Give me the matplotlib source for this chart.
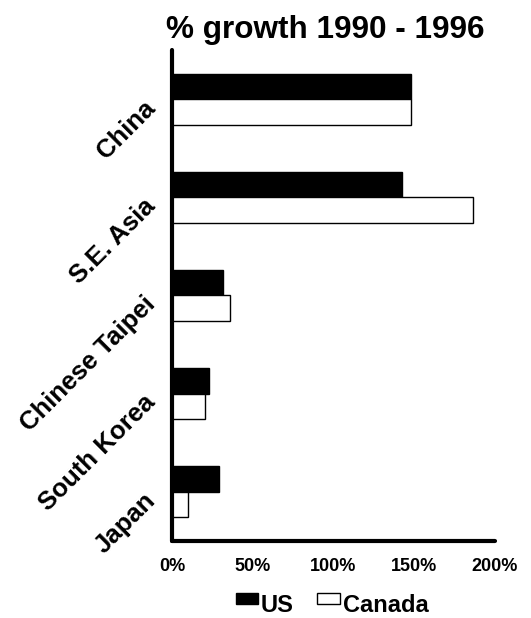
import matplotlib
matplotlib.use("Agg")
import matplotlib.pyplot as plt
import matplotlib.transforms as mtransforms
from matplotlib.patches import Patch, Rectangle
from matplotlib.legend_handler import HandlerPatch
import numpy as np

plt.rcParams['font.family'] = ['Liberation Sans', 'DejaVu Sans']
plt.rcParams['font.weight'] = 'bold'

regions = ["China", "S.E. Asia", "Chinese Taipei", "South Korea", "Japan"]
us_growth = [148, 142.5, 31.8, 23, 29]
canada_growth = [148, 186.5, 35.7, 20.6, 9.7]
x_ticks = [0, 50, 100, 150, 200]
x_tick_labels = ["0%", "50%", "100%", "150%", "200%"]

fig = plt.figure(figsize=(5.31, 6.18), dpi=100)
ax = fig.add_axes([172 / 531, 1 - 541 / 618, (495 - 172) / 531, (541 - 50) / 618])

y = np.arange(len(regions))
h = 0.26
ax.barh(y - h / 2, us_growth, height=h, color="black", edgecolor="black", linewidth=1)
ax.barh(y + h / 2, canada_growth, height=h, color="white", edgecolor="black", linewidth=1)

ax.set_xlim(0, 200)
ax.set_ylim(len(regions) - 0.5, -0.5)
ax.set_xticks(x_ticks)
ax.set_xticklabels(x_tick_labels, fontsize=13, fontweight="bold")
ax.set_yticks(y)
ax.set_yticklabels(regions, fontsize=18.5, fontweight="bold", rotation=45,
                   rotation_mode="anchor", ha="right", va="center")
ax.tick_params(axis="y", length=0, pad=13)
ax.tick_params(axis="x", length=0, pad=12)

# nudge the slanted category labels slightly down and left
shift = mtransforms.ScaledTranslation(-0.02, -0.05, fig.dpi_scale_trans)
for lbl in ax.get_yticklabels():
    lbl.set_transform(lbl.get_transform() + shift)

for side in ("top", "right"):
    ax.spines[side].set_visible(False)
for side in ("left", "bottom"):
    ax.spines[side].set_linewidth(3)
    ax.spines[side].set_capstyle("round")

fig.text(325 / 531, 1 - 38 / 618, "% growth 1990 - 1996", ha="center", va="baseline",
         fontsize=22.7, fontweight="bold")


def raised_box(legend, orig_handle, xdescent, ydescent, width, height, fontsize):
    return Rectangle((-xdescent, -ydescent + 0.3 * fontsize), width, 0.5 * fontsize)


handles = [Patch(facecolor="black", edgecolor="black", linewidth=1, label="US"),
           Patch(facecolor="white", edgecolor="black", linewidth=1, label="Canada")]
fig.legend(handles=handles, loc="center", bbox_to_anchor=(332 / 531, 1 - 605 / 618),
           ncol=2, frameon=False, prop={"weight": "bold", "size": 17},
           handlelength=0.95, handleheight=0.7, handletextpad=0.12, columnspacing=1.0,
           borderpad=0, handler_map={Patch: HandlerPatch(patch_func=raised_box)})

fig.savefig("out.png", dpi=100)
